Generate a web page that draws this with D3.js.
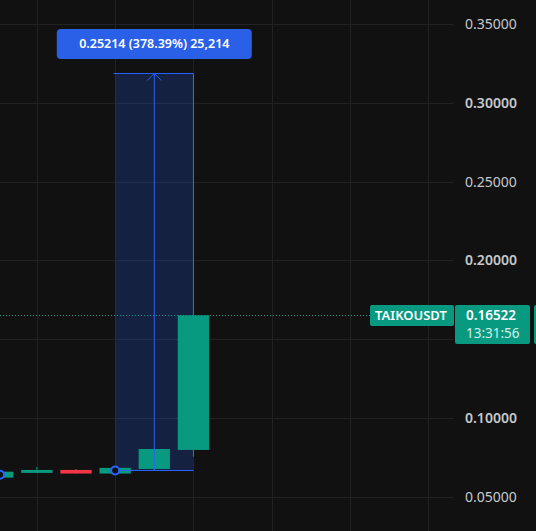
<!DOCTYPE html>
<html>
<head>
<meta charset="utf-8">
<script src="https://cdn.jsdelivr.net/npm/d3@7"></script>
<style>
  html, body { margin: 0; padding: 0; background: #111111; }
  svg { display: block; }
</style>
</head>
<body>
<svg id="chart" width="536" height="531"></svg>
<script>
// ---- data ----
const candleIndex = [0, 1, 2, 3, 4, 5];
const opens  = [0.0621, 0.0651, 0.0670, 0.0647, 0.0676, 0.0797];
const closes = [0.0659, 0.0670, 0.0647, 0.0683, 0.0803, 0.16522];
const highs  = [0.0662, 0.0689, 0.0676, 0.0685, 0.0803, 0.31877];
const lows   = [0.0618, 0.0651, 0.0647, 0.0645, 0.0666, 0.0754];
const priceTicks = [0.05, 0.10, 0.15, 0.20, 0.25, 0.30, 0.35];
const gridIndex = [1, 3, 5, 7, 9, 11];
const symbol = "TAIKOUSDT";
const lastPrice = 0.16522;
const countdown = "13:31:56";
const measureFrom = { idx: 3, price: 0.06663 };
const measureTo = { idx: 5, price: 0.31877 };
const measureText = "0.25214 (378.39%) 25,214";
const anchorPoints = [{ idx: 0.06, price: 0.0640 }, { idx: 3, price: 0.06663 }];

// ---- layout ----
const W = 536, H = 531, plotW = 453;
const UP = "#089981", DOWN = "#f23645", BLUE = "#2962ff";
const FONT = "'Noto Sans', 'Open Sans', sans-serif";

const x = d3.scaleLinear().domain([0.0587, 11.63]).range([0, plotW]);
const y = d3.scaleLinear().domain([0.05, 0.35]).range([496.7, 24.3]);
const step = x(1) - x(0);
const bodyW = step * 0.8;

const svg = d3.select("#chart");
svg.append("rect").attr("width", W).attr("height", H).attr("fill", "#111111");

// grid
const grid = svg.append("g");
grid.selectAll("line.h").data(priceTicks).join("line")
  .attr("x1", 0).attr("x2", plotW)
  .attr("y1", d => Math.round(y(d)) + 0.5).attr("y2", d => Math.round(y(d)) + 0.5)
  .attr("stroke", "#222222").attr("stroke-width", 1);
grid.selectAll("line.v").data(gridIndex).join("line")
  .attr("x1", d => Math.round(x(d)) + 0.5).attr("x2", d => Math.round(x(d)) + 0.5)
  .attr("y1", 0).attr("y2", H)
  .attr("stroke", "#222222").attr("stroke-width", 1);

// measurement rect fill
const mx0 = x(measureFrom.idx), mx1 = x(measureTo.idx);
const my0 = y(measureFrom.price), my1 = y(measureTo.price);
svg.append("rect")
  .attr("x", mx0).attr("y", my1).attr("width", mx1 - mx0).attr("height", my0 - my1)
  .attr("fill", BLUE).attr("fill-opacity", 0.2);

// candles
const candles = svg.append("g");
candleIndex.forEach((k, i) => {
  const col = closes[i] >= opens[i] ? UP : DOWN;
  const cx = x(k);
  candles.append("line")
    .attr("x1", cx).attr("x2", cx)
    .attr("y1", y(highs[i])).attr("y2", y(lows[i]))
    .attr("stroke", col).attr("stroke-width", 1);
  const top = y(Math.max(opens[i], closes[i]));
  const bot = y(Math.min(opens[i], closes[i]));
  candles.append("rect")
    .attr("x", cx - bodyW / 2).attr("y", top)
    .attr("width", bodyW).attr("height", Math.max(1, bot - top))
    .attr("fill", col);
});

// measurement borders + arrow
const mcx = (mx0 + mx1) / 2;
svg.append("line").attr("x1", mx0 - 1.5).attr("x2", mx1).attr("y1", my1).attr("y2", my1)
  .attr("stroke", BLUE).attr("stroke-width", 1);
svg.append("line").attr("x1", mx0).attr("x2", mx1).attr("y1", my0).attr("y2", my0)
  .attr("stroke", BLUE).attr("stroke-width", 1);
svg.append("line").attr("x1", mcx).attr("x2", mcx).attr("y1", my0).attr("y2", my1)
  .attr("stroke", BLUE).attr("stroke-width", 1);
svg.append("path")
  .attr("d", `M${mcx - 7},${my1 + 7} L${mcx},${my1} L${mcx + 7},${my1 + 7}`)
  .attr("fill", "none").attr("stroke", BLUE).attr("stroke-width", 1);

// anchor circles
svg.selectAll("circle.anchor").data(anchorPoints).join("circle")
  .attr("cx", d => x(d.idx)).attr("cy", d => y(d.price)).attr("r", 4)
  .attr("fill", "#111111").attr("stroke", BLUE).attr("stroke-width", 2);

// measurement label
const lblW = 195, lblH = 30;
svg.append("rect").attr("x", mcx - lblW / 2).attr("y", 29).attr("width", lblW).attr("height", lblH)
  .attr("rx", 4).attr("fill", "#2a5fe8");
svg.append("text").attr("x", mcx).attr("y", 44).attr("dy", "0.35em")
  .attr("text-anchor", "middle").attr("fill", "#ffffff")
  .attr("font-family", FONT).attr("font-size", 12.5).attr("font-weight", 600)
  .text(measureText);

// last price dotted line
const py = Math.round(y(lastPrice)) + 0.5;
svg.append("line").attr("x1", 0).attr("x2", 370).attr("y1", py).attr("y2", py)
  .attr("stroke", UP).attr("stroke-width", 1).attr("stroke-dasharray", "1,2");

// price axis labels
svg.append("g").selectAll("text").data(priceTicks.filter(d => Math.abs(d - 0.15) > 1e-9)).join("text")
  .attr("x", 465).attr("y", d => y(d)).attr("dy", "0.35em")
  .attr("fill", "#c8c8c8")
  .attr("font-family", FONT).attr("font-size", 14)
  .attr("font-weight", d => (Math.round(d * 100) % 10 === 0) ? 600 : 400)
  .text(d => d.toFixed(5));

// symbol + price labels
svg.append("rect").attr("x", 370).attr("y", 305).attr("width", 84).attr("height", 21)
  .attr("rx", 2).attr("fill", UP);
svg.append("text").attr("x", 411).attr("y", 315.5).attr("dy", "0.35em").attr("text-anchor", "middle")
  .attr("fill", "#ffffff").attr("font-family", FONT).attr("font-size", 13).attr("font-weight", 600)
  .text(symbol);
svg.append("rect").attr("x", 455).attr("y", 305).attr("width", 75).attr("height", 39)
  .attr("rx", 2).attr("fill", UP);
svg.append("rect").attr("x", 534).attr("y", 305).attr("width", 10).attr("height", 39)
  .attr("rx", 2).attr("fill", UP);
svg.append("text").attr("x", 466).attr("y", 315.5).attr("dy", "0.35em")
  .attr("fill", "#ffffff").attr("font-family", FONT).attr("font-size", 13.5).attr("font-weight", 600)
  .text(lastPrice.toFixed(5));
svg.append("text").attr("x", 466).attr("y", 333).attr("dy", "0.35em")
  .attr("fill", "#d2efe9").attr("font-family", FONT).attr("font-size", 13.5)
  .text(countdown);
</script>
</body>
</html>
